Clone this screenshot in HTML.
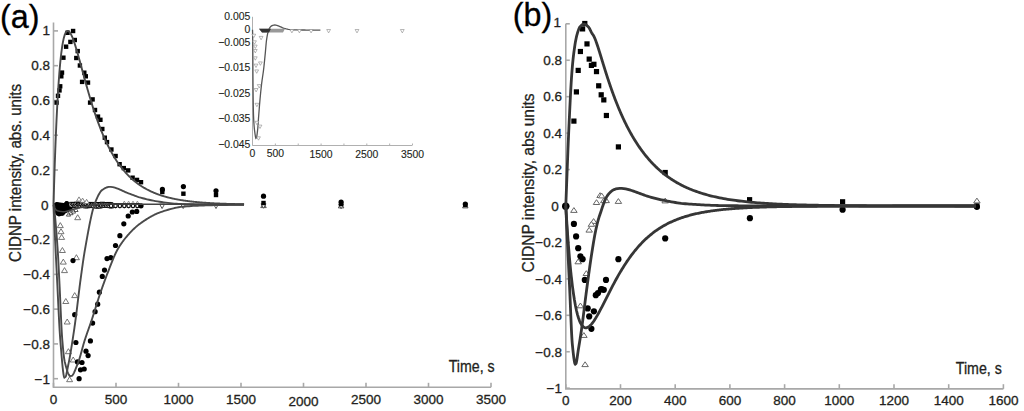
<!DOCTYPE html>
<html><head><meta charset="utf-8"><style>
html,body{margin:0;padding:0;background:#fff;width:1024px;height:411px;overflow:hidden}
svg{display:block;font-family:"Liberation Sans",sans-serif}
</style></head><body><svg width="1024" height="411" viewBox="0 0 1024 411" font-family="Liberation Sans, sans-serif"><rect width="1024" height="411" fill="#fff"/><path d="M53.5 22.5V387.3H491" stroke="#a8a8a8" stroke-width="1.6" fill="none"/><path d="M53.5 30.9H58" stroke="#a8a8a8" stroke-width="1.6" fill="none"/><text x="50" y="34.5" font-size="13.5" text-anchor="end" fill="#231f20" stroke="#231f20" stroke-width="0.3">1</text><path d="M53.5 65.68H58" stroke="#a8a8a8" stroke-width="1.6" fill="none"/><text x="50" y="70.48" font-size="13.5" text-anchor="end" fill="#231f20" stroke="#231f20" stroke-width="0.3">0.8</text><path d="M53.5 100.46H58" stroke="#a8a8a8" stroke-width="1.6" fill="none"/><text x="50" y="105.26" font-size="13.5" text-anchor="end" fill="#231f20" stroke="#231f20" stroke-width="0.3">0.6</text><path d="M53.5 135.24H58" stroke="#a8a8a8" stroke-width="1.6" fill="none"/><text x="50" y="140.04" font-size="13.5" text-anchor="end" fill="#231f20" stroke="#231f20" stroke-width="0.3">0.4</text><path d="M53.5 170.02H58" stroke="#a8a8a8" stroke-width="1.6" fill="none"/><text x="50" y="174.82" font-size="13.5" text-anchor="end" fill="#231f20" stroke="#231f20" stroke-width="0.3">0.2</text><path d="M53.5 204.8H58" stroke="#a8a8a8" stroke-width="1.6" fill="none"/><text x="48.6" y="209.6" font-size="13.5" text-anchor="end" fill="#231f20" stroke="#231f20" stroke-width="0.3">0</text><path d="M53.5 239.58H58" stroke="#a8a8a8" stroke-width="1.6" fill="none"/><text x="50" y="244.38" font-size="13.5" text-anchor="end" fill="#231f20" stroke="#231f20" stroke-width="0.3">−0.2</text><path d="M53.5 274.36H58" stroke="#a8a8a8" stroke-width="1.6" fill="none"/><text x="50" y="279.16" font-size="13.5" text-anchor="end" fill="#231f20" stroke="#231f20" stroke-width="0.3">−0.4</text><path d="M53.5 309.14H58" stroke="#a8a8a8" stroke-width="1.6" fill="none"/><text x="50" y="313.94" font-size="13.5" text-anchor="end" fill="#231f20" stroke="#231f20" stroke-width="0.3">−0.6</text><path d="M53.5 343.92H58" stroke="#a8a8a8" stroke-width="1.6" fill="none"/><text x="50" y="348.72" font-size="13.5" text-anchor="end" fill="#231f20" stroke="#231f20" stroke-width="0.3">−0.8</text><path d="M53.5 378.7H58" stroke="#a8a8a8" stroke-width="1.6" fill="none"/><text x="50" y="383.5" font-size="13.5" text-anchor="end" fill="#231f20" stroke="#231f20" stroke-width="0.3">−1</text><path d="M53.5 387.3V382.8" stroke="#a8a8a8" stroke-width="1.6" fill="none"/><text x="53.5" y="403.8" font-size="13.5" text-anchor="middle" fill="#231f20" stroke="#231f20" stroke-width="0.3">0</text><path d="M116 387.3V382.8" stroke="#a8a8a8" stroke-width="1.6" fill="none"/><text x="116" y="403.8" font-size="13.5" text-anchor="middle" fill="#231f20" stroke="#231f20" stroke-width="0.3">500</text><path d="M178.5 387.3V382.8" stroke="#a8a8a8" stroke-width="1.6" fill="none"/><text x="178.5" y="403.8" font-size="13.5" text-anchor="middle" fill="#231f20" stroke="#231f20" stroke-width="0.3">1000</text><path d="M241 387.3V382.8" stroke="#a8a8a8" stroke-width="1.6" fill="none"/><text x="241" y="403.8" font-size="13.5" text-anchor="middle" fill="#231f20" stroke="#231f20" stroke-width="0.3">1500</text><path d="M303.5 387.3V382.8" stroke="#a8a8a8" stroke-width="1.6" fill="none"/><text x="303.5" y="406" font-size="13.5" text-anchor="middle" fill="#231f20" stroke="#231f20" stroke-width="0.3">2000</text><path d="M366 387.3V382.8" stroke="#a8a8a8" stroke-width="1.6" fill="none"/><text x="366" y="403.8" font-size="13.5" text-anchor="middle" fill="#231f20" stroke="#231f20" stroke-width="0.3">2500</text><path d="M428.5 387.3V382.8" stroke="#a8a8a8" stroke-width="1.6" fill="none"/><text x="428.5" y="403.8" font-size="13.5" text-anchor="middle" fill="#231f20" stroke="#231f20" stroke-width="0.3">3000</text><path d="M491 387.3V382.8" stroke="#a8a8a8" stroke-width="1.6" fill="none"/><text x="491" y="403.8" font-size="13.5" text-anchor="middle" fill="#231f20" stroke="#231f20" stroke-width="0.3">3500</text><text x="448.7" y="371.5" font-size="16" text-anchor="start" fill="#231f20" stroke="#231f20" stroke-width="0.3" textLength="46" lengthAdjust="spacingAndGlyphs">Time, s</text><text transform="translate(21.3 262) rotate(-90)" font-size="16" fill="#231f20" stroke="#231f20" stroke-width="0.3" textLength="178" lengthAdjust="spacingAndGlyphs">CIDNP intensity, abs. units</text><text x="0" y="28.2" font-size="32.3" text-anchor="start" fill="#000" stroke="#000" stroke-width="0.3">(a)</text><polygon points="74.7,219.7 80.7,219.7 77.7,214.7" fill="#fff" stroke="#666" stroke-width="0.9" stroke-linejoin="miter"/><polygon points="57.3,227.6 63.3,227.6 60.3,222.6" fill="#fff" stroke="#666" stroke-width="0.9" stroke-linejoin="miter"/><polygon points="58,233.7 64,233.7 61,228.7" fill="#fff" stroke="#666" stroke-width="0.9" stroke-linejoin="miter"/><polygon points="58.6,239.4 64.6,239.4 61.6,234.4" fill="#fff" stroke="#666" stroke-width="0.9" stroke-linejoin="miter"/><polygon points="59.4,252.5 65.4,252.5 62.4,247.5" fill="#fff" stroke="#666" stroke-width="0.9" stroke-linejoin="miter"/><polygon points="73.4,259.7 79.4,259.7 76.4,254.7" fill="#fff" stroke="#666" stroke-width="0.9" stroke-linejoin="miter"/><polygon points="60.3,264.1 66.3,264.1 63.3,259.1" fill="#fff" stroke="#666" stroke-width="0.9" stroke-linejoin="miter"/><polygon points="61.5,272.6 67.5,272.6 64.5,267.6" fill="#fff" stroke="#666" stroke-width="0.9" stroke-linejoin="miter"/><polygon points="71.7,297.6 77.7,297.6 74.7,292.6" fill="#fff" stroke="#666" stroke-width="0.9" stroke-linejoin="miter"/><polygon points="62.8,303.5 68.8,303.5 65.8,298.5" fill="#fff" stroke="#666" stroke-width="0.9" stroke-linejoin="miter"/><polygon points="64.2,324 70.2,324 67.2,319" fill="#fff" stroke="#666" stroke-width="0.9" stroke-linejoin="miter"/><polygon points="65.4,353.7 71.4,353.7 68.4,348.7" fill="#fff" stroke="#666" stroke-width="0.9" stroke-linejoin="miter"/><polygon points="70.2,362 76.2,362 73.2,357" fill="#fff" stroke="#666" stroke-width="0.9" stroke-linejoin="miter"/><polygon points="66.6,381.7 72.6,381.7 69.6,376.7" fill="#fff" stroke="#666" stroke-width="0.9" stroke-linejoin="miter"/><polygon points="69.5,202.34 74.5,202.34 72,207.14" fill="#fff" stroke="#000" stroke-width="1.0"/><polygon points="70.4,207.55 75.2,207.55 72.8,202.95" fill="#fff" stroke="#111" stroke-width="1.0" stroke-linejoin="miter"/><polygon points="71.1,202.47 76.1,202.47 73.6,207.27" fill="#fff" stroke="#000" stroke-width="1.0"/><polygon points="72,207.62 76.8,207.62 74.4,203.02" fill="#fff" stroke="#111" stroke-width="1.0" stroke-linejoin="miter"/><polygon points="72.7,202.73 77.7,202.73 75.2,207.53" fill="#fff" stroke="#000" stroke-width="1.0"/><polygon points="73.6,206.98 78.4,206.98 76,202.38" fill="#fff" stroke="#111" stroke-width="1.0" stroke-linejoin="miter"/><polygon points="74.3,202.11 79.3,202.11 76.8,206.91" fill="#fff" stroke="#000" stroke-width="1.0"/><polygon points="75.2,207.9 80,207.9 77.6,203.3" fill="#fff" stroke="#111" stroke-width="1.0" stroke-linejoin="miter"/><polygon points="75.9,202.36 80.9,202.36 78.4,207.16" fill="#fff" stroke="#000" stroke-width="1.0"/><polygon points="76.8,207.18 81.6,207.18 79.2,202.58" fill="#fff" stroke="#111" stroke-width="1.0" stroke-linejoin="miter"/><polygon points="77.5,203.1 82.5,203.1 80,207.9" fill="#fff" stroke="#000" stroke-width="1.0"/><polygon points="78.4,207.46 83.2,207.46 80.8,202.86" fill="#fff" stroke="#111" stroke-width="1.0" stroke-linejoin="miter"/><polygon points="79.1,202.94 84.1,202.94 81.6,207.74" fill="#fff" stroke="#000" stroke-width="1.0"/><polygon points="80,207.47 84.8,207.47 82.4,202.87" fill="#fff" stroke="#111" stroke-width="1.0" stroke-linejoin="miter"/><polygon points="80.7,202.74 85.7,202.74 83.2,207.54" fill="#fff" stroke="#000" stroke-width="1.0"/><polygon points="81.6,207.08 86.4,207.08 84,202.48" fill="#fff" stroke="#111" stroke-width="1.0" stroke-linejoin="miter"/><polygon points="82.3,202.73 87.3,202.73 84.8,207.53" fill="#fff" stroke="#000" stroke-width="1.0"/><polygon points="83.2,207.94 88,207.94 85.6,203.34" fill="#fff" stroke="#111" stroke-width="1.0" stroke-linejoin="miter"/><polygon points="83.9,202.62 88.9,202.62 86.4,207.42" fill="#fff" stroke="#000" stroke-width="1.0"/><polygon points="84.8,207.79 89.6,207.79 87.2,203.19" fill="#fff" stroke="#111" stroke-width="1.0" stroke-linejoin="miter"/><polygon points="85.5,202.77 90.5,202.77 88,207.57" fill="#fff" stroke="#000" stroke-width="1.0"/><polygon points="86.4,206.98 91.2,206.98 88.8,202.38" fill="#fff" stroke="#111" stroke-width="1.0" stroke-linejoin="miter"/><polygon points="87.1,202.86 92.1,202.86 89.6,207.66" fill="#fff" stroke="#000" stroke-width="1.0"/><polygon points="88,207.61 92.8,207.61 90.4,203.01" fill="#fff" stroke="#111" stroke-width="1.0" stroke-linejoin="miter"/><polygon points="88.7,202.4 93.7,202.4 91.2,207.2" fill="#fff" stroke="#000" stroke-width="1.0"/><polygon points="89.6,206.94 94.4,206.94 92,202.34" fill="#fff" stroke="#111" stroke-width="1.0" stroke-linejoin="miter"/><polygon points="90.3,202.97 95.3,202.97 92.8,207.77" fill="#fff" stroke="#000" stroke-width="1.0"/><polygon points="91.2,207.47 96,207.47 93.6,202.87" fill="#fff" stroke="#111" stroke-width="1.0" stroke-linejoin="miter"/><polygon points="91.9,202.82 96.9,202.82 94.4,207.62" fill="#fff" stroke="#000" stroke-width="1.0"/><polygon points="92.8,207.95 97.6,207.95 95.2,203.35" fill="#fff" stroke="#111" stroke-width="1.0" stroke-linejoin="miter"/><polygon points="93.5,202.81 98.5,202.81 96,207.61" fill="#fff" stroke="#000" stroke-width="1.0"/><polygon points="94.4,208.01 99.2,208.01 96.8,203.41" fill="#fff" stroke="#111" stroke-width="1.0" stroke-linejoin="miter"/><polygon points="95.1,202.49 100.1,202.49 97.6,207.29" fill="#fff" stroke="#000" stroke-width="1.0"/><polygon points="96,207.86 100.8,207.86 98.4,203.26" fill="#fff" stroke="#111" stroke-width="1.0" stroke-linejoin="miter"/><polygon points="96.7,202.54 101.7,202.54 99.2,207.34" fill="#fff" stroke="#000" stroke-width="1.0"/><polygon points="97.6,208.02 102.4,208.02 100,203.42" fill="#fff" stroke="#111" stroke-width="1.0" stroke-linejoin="miter"/><polygon points="98.3,202.98 103.3,202.98 100.8,207.78" fill="#fff" stroke="#000" stroke-width="1.0"/><polygon points="99.2,207.02 104,207.02 101.6,202.42" fill="#fff" stroke="#111" stroke-width="1.0" stroke-linejoin="miter"/><polygon points="99.9,202.24 104.9,202.24 102.4,207.04" fill="#fff" stroke="#000" stroke-width="1.0"/><polygon points="100.8,207.16 105.6,207.16 103.2,202.56" fill="#fff" stroke="#111" stroke-width="1.0" stroke-linejoin="miter"/><polygon points="101.5,203.07 106.5,203.07 104,207.87" fill="#fff" stroke="#000" stroke-width="1.0"/><polygon points="102.4,207.42 107.2,207.42 104.8,202.82" fill="#fff" stroke="#111" stroke-width="1.0" stroke-linejoin="miter"/><polygon points="103.1,202.73 108.1,202.73 105.6,207.53" fill="#fff" stroke="#000" stroke-width="1.0"/><polygon points="104,207.26 108.8,207.26 106.4,202.66" fill="#fff" stroke="#111" stroke-width="1.0" stroke-linejoin="miter"/><polygon points="104.7,202.61 109.7,202.61 107.2,207.41" fill="#fff" stroke="#000" stroke-width="1.0"/><polygon points="105.6,207.36 110.4,207.36 108,202.76" fill="#fff" stroke="#111" stroke-width="1.0" stroke-linejoin="miter"/><polygon points="106.3,202.45 111.3,202.45 108.8,207.25" fill="#fff" stroke="#000" stroke-width="1.0"/><polygon points="107.2,207.6 112,207.6 109.6,203" fill="#fff" stroke="#111" stroke-width="1.0" stroke-linejoin="miter"/><polygon points="107.9,202.68 112.9,202.68 110.4,207.48" fill="#fff" stroke="#000" stroke-width="1.0"/><polygon points="108.8,207.99 113.6,207.99 111.2,203.39" fill="#fff" stroke="#111" stroke-width="1.0" stroke-linejoin="miter"/><polygon points="76.5,201.1 81.5,201.1 79,196.9" fill="#fff" stroke="#777" stroke-width="0.9" stroke-linejoin="miter"/><polygon points="80.1,202.3 85.1,202.3 82.6,198.1" fill="#fff" stroke="#777" stroke-width="0.9" stroke-linejoin="miter"/><polygon points="84.1,203.5 89.1,203.5 86.6,199.3" fill="#fff" stroke="#777" stroke-width="0.9" stroke-linejoin="miter"/><polygon points="66.4,216.1 70.6,216.1 68.5,212.5" fill="#fff" stroke="#333" stroke-width="0.8" stroke-linejoin="miter"/><polygon points="68.9,214.7 73.1,214.7 71,211.1" fill="#fff" stroke="#333" stroke-width="0.8" stroke-linejoin="miter"/><polygon points="71.4,213.1 75.6,213.1 73.5,209.5" fill="#fff" stroke="#333" stroke-width="0.8" stroke-linejoin="miter"/><polygon points="73.9,211.5 78.1,211.5 76,207.9" fill="#fff" stroke="#333" stroke-width="0.8" stroke-linejoin="miter"/><polygon points="122,205.3 126.6,205.3 124.3,201.1" fill="#fff" stroke="#888" stroke-width="0.9" stroke-linejoin="miter"/><polygon points="126.3,205.3 130.9,205.3 128.6,201.1" fill="#fff" stroke="#888" stroke-width="0.9" stroke-linejoin="miter"/><polygon points="130.7,205.3 135.3,205.3 133,201.1" fill="#fff" stroke="#888" stroke-width="0.9" stroke-linejoin="miter"/><polygon points="135.1,205.3 139.7,205.3 137.4,201.1" fill="#fff" stroke="#888" stroke-width="0.9" stroke-linejoin="miter"/><polygon points="108.8,203.5 113.4,203.5 111.1,208.1" fill="#fff" stroke="#111" stroke-width="1.0"/><circle cx="111.1" cy="205.9" r="1.7" fill="#fff" stroke="#111" stroke-width="1.2"/><polygon points="113.2,203.5 117.8,203.5 115.5,208.1" fill="#fff" stroke="#111" stroke-width="1.0"/><circle cx="115.5" cy="205.9" r="1.7" fill="#fff" stroke="#111" stroke-width="1.2"/><polygon points="117.6,203.5 122.2,203.5 119.9,208.1" fill="#fff" stroke="#111" stroke-width="1.0"/><circle cx="119.9" cy="205.9" r="1.7" fill="#fff" stroke="#111" stroke-width="1.2"/><polygon points="122,203.5 126.6,203.5 124.3,208.1" fill="#fff" stroke="#111" stroke-width="1.0"/><circle cx="124.3" cy="205.9" r="1.7" fill="#fff" stroke="#111" stroke-width="1.2"/><polygon points="126.3,203.5 130.9,203.5 128.6,208.1" fill="#fff" stroke="#111" stroke-width="1.0"/><circle cx="128.6" cy="205.9" r="1.7" fill="#fff" stroke="#111" stroke-width="1.2"/><polygon points="130.7,203.5 135.3,203.5 133,208.1" fill="#fff" stroke="#111" stroke-width="1.0"/><circle cx="133" cy="205.9" r="1.7" fill="#fff" stroke="#111" stroke-width="1.2"/><polygon points="135.1,203.5 139.7,203.5 137.4,208.1" fill="#fff" stroke="#111" stroke-width="1.0"/><circle cx="137.4" cy="205.9" r="1.7" fill="#fff" stroke="#111" stroke-width="1.2"/><polygon points="260.75,207.6 266.25,207.6 263.5,202.8" fill="#fff" stroke="#444" stroke-width="0.9" stroke-linejoin="miter"/><polygon points="338.35,207.9 343.85,207.9 341.1,203.1" fill="#fff" stroke="#444" stroke-width="0.9" stroke-linejoin="miter"/><polygon points="462.55,207.9 468.05,207.9 465.3,203.1" fill="#fff" stroke="#444" stroke-width="0.9" stroke-linejoin="miter"/><polygon points="159.6,204.05 164.6,204.05 162.1,208.55" fill="#fff" stroke="#444" stroke-width="0.9"/><polygon points="180.7,204.05 185.7,204.05 183.2,208.55" fill="#fff" stroke="#444" stroke-width="0.9"/><polygon points="213.5,204.05 218.5,204.05 216,208.55" fill="#fff" stroke="#444" stroke-width="0.9"/><polygon points="261,203.75 266,203.75 263.5,208.25" fill="#fff" stroke="#444" stroke-width="0.9"/><polygon points="338.6,204.25 343.6,204.25 341.1,208.75" fill="#fff" stroke="#444" stroke-width="0.9"/><rect x="65.3" y="30.6" width="4.4" height="4.4" fill="#000"/><rect x="70.9" y="28.8" width="4.4" height="4.4" fill="#000"/><rect x="68.2" y="39.7" width="4.4" height="4.4" fill="#000"/><rect x="72.6" y="37.8" width="4.4" height="4.4" fill="#000"/><rect x="63.9" y="44.5" width="4.4" height="4.4" fill="#000"/><rect x="75.5" y="48.9" width="4.4" height="4.4" fill="#000"/><rect x="61.2" y="55.5" width="4.4" height="4.4" fill="#000"/><rect x="74.1" y="55.8" width="4.4" height="4.4" fill="#000"/><rect x="77.7" y="63.3" width="4.4" height="4.4" fill="#000"/><rect x="59.8" y="70.4" width="4.4" height="4.4" fill="#000"/><rect x="59.1" y="74.1" width="4.4" height="4.4" fill="#000"/><rect x="82.1" y="70.5" width="4.4" height="4.4" fill="#000"/><rect x="83.6" y="74.1" width="4.4" height="4.4" fill="#000"/><rect x="79.9" y="79.7" width="4.4" height="4.4" fill="#000"/><rect x="85.8" y="80.4" width="4.4" height="4.4" fill="#000"/><rect x="58" y="84.1" width="4.4" height="4.4" fill="#000"/><rect x="57.3" y="88.2" width="4.4" height="4.4" fill="#000"/><rect x="55.8" y="93.6" width="4.4" height="4.4" fill="#000"/><rect x="54.4" y="100.4" width="4.4" height="4.4" fill="#000"/><rect x="90.4" y="97.2" width="4.4" height="4.4" fill="#000"/><rect x="87.9" y="100.4" width="4.4" height="4.4" fill="#000"/><rect x="92.8" y="107.8" width="4.4" height="4.4" fill="#000"/><rect x="95.8" y="114.4" width="4.4" height="4.4" fill="#000"/><rect x="98.2" y="117.6" width="4.4" height="4.4" fill="#000"/><rect x="100.1" y="126.8" width="4.4" height="4.4" fill="#000"/><rect x="102.6" y="135.5" width="4.4" height="4.4" fill="#000"/><rect x="104.8" y="139.9" width="4.4" height="4.4" fill="#000"/><rect x="109.2" y="147.3" width="4.4" height="4.4" fill="#000"/><rect x="113.4" y="153.8" width="4.4" height="4.4" fill="#000"/><rect x="117.4" y="162" width="4.4" height="4.4" fill="#000"/><rect x="121.6" y="165.9" width="4.4" height="4.4" fill="#000"/><rect x="126" y="168.2" width="4.4" height="4.4" fill="#000"/><rect x="130.4" y="175.5" width="4.4" height="4.4" fill="#000"/><rect x="134.8" y="177.7" width="4.4" height="4.4" fill="#000"/><rect x="138.8" y="180" width="4.4" height="4.4" fill="#000"/><rect x="160.1" y="189.8" width="4.4" height="4.4" fill="#000"/><rect x="181.2" y="191.5" width="4.4" height="4.4" fill="#000"/><rect x="213.8" y="192.8" width="4.4" height="4.4" fill="#000"/><rect x="261.3" y="200.8" width="4.4" height="4.4" fill="#000"/><rect x="338.9" y="201.8" width="4.4" height="4.4" fill="#000"/><rect x="463.1" y="202.8" width="4.4" height="4.4" fill="#000"/><circle cx="141" cy="205.8" r="2.6" fill="#000"/><circle cx="132.3" cy="212" r="2.6" fill="#000"/><circle cx="136.7" cy="211.4" r="2.6" fill="#000"/><circle cx="128.2" cy="216" r="2.6" fill="#000"/><circle cx="123.8" cy="223.8" r="2.6" fill="#000"/><circle cx="119.9" cy="235.7" r="2.6" fill="#000"/><circle cx="115.5" cy="245.5" r="2.6" fill="#000"/><circle cx="110.8" cy="257.7" r="2.6" fill="#000"/><circle cx="107" cy="258.6" r="2.6" fill="#000"/><circle cx="104.5" cy="270.1" r="2.6" fill="#000"/><circle cx="102.3" cy="276.4" r="2.6" fill="#000"/><circle cx="99.4" cy="292.2" r="2.6" fill="#000"/><circle cx="97.7" cy="304.2" r="2.6" fill="#000"/><circle cx="95.1" cy="311.7" r="2.6" fill="#000"/><circle cx="92.6" cy="323.1" r="2.6" fill="#000"/><circle cx="73" cy="260.6" r="2.6" fill="#000"/><circle cx="74.7" cy="314.7" r="2.6" fill="#000"/><circle cx="75.9" cy="342.5" r="2.6" fill="#000"/><circle cx="90.4" cy="340.9" r="2.6" fill="#000"/><circle cx="86" cy="351.2" r="2.6" fill="#000"/><circle cx="88.1" cy="355.6" r="2.6" fill="#000"/><circle cx="77.5" cy="361.9" r="2.6" fill="#000"/><circle cx="82" cy="362.5" r="2.6" fill="#000"/><circle cx="80.5" cy="369.8" r="2.6" fill="#000"/><circle cx="84.2" cy="369" r="2.6" fill="#000"/><circle cx="79.1" cy="378.7" r="2.6" fill="#000"/><circle cx="162.4" cy="189.4" r="2.6" fill="#000"/><circle cx="183.4" cy="186.6" r="2.6" fill="#000"/><circle cx="216" cy="190.8" r="2.6" fill="#000"/><circle cx="263.5" cy="196.2" r="2.6" fill="#000"/><circle cx="341.1" cy="202" r="2.6" fill="#000"/><circle cx="465.3" cy="204" r="2.6" fill="#000"/><path d="M53.8 203.6L56.3 202L60.1 202.6L63.9 203L65.5 201.6L67.5 201.4L69.2 203L69.8 206.4L72.2 207.8L72.7 209.6L70.9 210.8L65.8 213.3L62.7 215.6L58.9 216.4L56.3 215.2L54.2 212Z" fill="#000"/><circle cx="66.8" cy="203.2" r="2.3" fill="#000"/><circle cx="57" cy="204.5" r="2.3" fill="#000"/><circle cx="59" cy="213.5" r="2.3" fill="#000"/><circle cx="62.5" cy="213.5" r="2.3" fill="#000"/><path d="M53.5 204.8L53.53 203.69L53.56 202.59L53.59 201.5L53.62 200.41L53.66 199.33L53.69 198.25L53.72 197.17L53.75 196.11L53.78 195.04L53.81 193.99L53.84 192.93L53.88 191.89L53.91 190.85L53.94 189.81L53.97 188.78L54 187.75L54.03 186.73L54.06 185.72L54.09 184.71L54.12 183.7L54.16 182.7L54.19 181.7L54.22 180.71L54.25 179.73L54.28 178.75L54.31 177.77L54.34 176.8L54.38 175.84L54.41 174.88L54.44 173.92L54.47 172.97L54.5 172.03L54.53 171.09L54.56 170.15L54.59 169.22L54.62 168.29L54.66 167.37L54.69 166.45L54.72 165.54L54.75 164.63L54.78 163.73L54.81 162.83L54.84 161.94L54.88 161.05L54.91 160.16L54.94 159.28L54.97 158.41L55 157.54L55.03 156.67L55.06 155.81L55.09 154.95L55.12 154.1L55.16 153.25L55.19 152.41L55.22 151.57L55.25 150.73L55.28 149.9L55.31 149.08L55.34 148.25L55.38 147.44L55.41 146.62L55.44 145.81L55.47 145.01L55.5 144.21L55.53 143.41L55.56 142.62L55.59 141.83L55.62 141.05L55.66 140.27L55.69 139.49L55.72 138.72L55.75 137.95L55.78 137.19L55.81 136.43L55.84 135.68L55.88 134.92L55.91 134.18L55.94 133.43L55.97 132.7L56 131.96L56.06 130.5L56.53 120L57.01 110.34L57.48 101.46L57.95 93.32L58.42 85.87L58.89 79.07L59.36 72.88L59.83 67.25L60.3 62.17L60.78 57.58L61.25 53.46L61.72 49.77L62.19 46.5L62.66 43.61L63.13 41.08L63.6 38.88L64.08 37L64.55 35.4L65.02 34.08L65.49 33.01L65.96 32.18L66.43 31.57L66.9 31.16L67.37 30.95L67.85 30.91L68.32 31.03L68.79 31.3L69.26 31.72L69.73 32.27L70.2 32.93L70.67 33.71L71.15 34.59L71.62 35.56L72.09 36.62L72.56 37.76L73.03 38.97L73.5 40.25L73.97 41.58L74.44 42.98L74.92 44.42L75.39 45.9L75.86 47.43L76.33 48.99L76.8 50.58L77.27 52.2L77.74 53.84L78.22 55.5L78.69 57.18L79.16 58.88L79.63 60.59L80.1 62.31L80.57 64.04L81.04 65.77L81.51 67.5L81.99 69.24L82.46 70.98L82.93 72.71L83.4 74.45L83.87 76.17L84.34 77.9L84.81 79.61L85.29 81.32L85.76 83.01L86.23 84.7L86.7 86.38L87.17 88.04L87.64 89.7L88.11 91.34L88.58 92.96L89.06 94.57L89.53 96.17L90 97.76L90.47 99.32L90.94 100.87L91.41 102.41L91.88 103.93L92.36 105.43L92.83 106.92L93.3 108.39L93.77 109.84L94.24 111.27L94.71 112.69L95.18 114.09L95.65 115.48L96.13 116.84L96.6 118.19L97.07 119.52L97.54 120.84L98.01 122.13L98.48 123.41L98.95 124.68L99.43 125.92L99.9 127.15L100.37 128.36L100.84 129.56L101.31 130.73L101.78 131.89L102.25 133.04L102.72 134.17L103.2 135.28L103.67 136.38L104.14 137.46L104.61 138.52L105.08 139.57L105.55 140.6L106.02 141.62L106.5 142.62L106.97 143.61L107.44 144.58L107.91 145.54L108.38 146.49L108.85 147.42L109.32 148.33L109.79 149.23L110.27 150.12L110.74 151L111.21 151.86L111.68 152.7L112.15 153.54L112.62 154.36L113.09 155.17L113.57 155.97L114.04 156.75L114.51 157.52L114.98 158.28L115.45 159.03L115.92 159.77L116.39 160.49L116.86 161.2L117.34 161.91L117.81 162.6L118.28 163.28L118.75 163.95L119.22 164.61L119.69 165.25L120.16 165.89L120.64 166.52L121.11 167.14L121.58 167.75L122.05 168.35L122.52 168.93L122.99 169.51L123.46 170.08L123.93 170.65L124.41 171.2L124.88 171.74L125.35 172.28L125.82 172.8L126.29 173.32L126.76 173.83L127.23 174.33L127.71 174.82L128.18 175.31L128.65 175.79L129.12 176.26L129.59 176.72L130.06 177.17L130.53 177.62L131 178.06L131.48 178.49L131.95 178.92L132.42 179.34L132.89 179.75L133.36 180.16L133.83 180.56L134.3 180.95L134.78 181.34L135.25 181.72L135.72 182.09L136.19 182.46L136.66 182.82L137.13 183.18L137.6 183.53L138.07 183.88L138.55 184.22L139.02 184.55L139.49 184.88L139.96 185.2L140.43 185.52L140.9 185.83L141.37 186.14L141.85 186.44L142.32 186.74L142.79 187.03L143.26 187.32L143.73 187.61L144.2 187.88L144.67 188.16L145.14 188.43L145.62 188.7L146.09 188.96L146.56 189.21L147.03 189.47L147.5 189.72L147.97 189.96L148.44 190.2L148.92 190.44L149.39 190.67L149.86 190.9L150.33 191.13L150.8 191.35L151.27 191.57L151.74 191.78L152.21 191.99L152.69 192.2L153.16 192.41L153.63 192.61L154.1 192.81L154.57 193L155.04 193.19L155.51 193.38L155.99 193.57L156.46 193.75L156.93 193.93L157.4 194.1L157.87 194.28L158.34 194.45L158.81 194.62L159.28 194.78L159.76 194.94L160.23 195.1L160.7 195.26L161.17 195.42L161.64 195.57L162.11 195.72L162.58 195.87L163.06 196.01L163.53 196.15L164 196.3L164.47 196.43L164.94 196.57L165.41 196.7L165.88 196.83L166.35 196.96L166.83 197.09L167.3 197.22L167.77 197.34L168.24 197.46L168.71 197.58L169.18 197.7L169.65 197.81L170.13 197.93L170.6 198.04L171.07 198.15L171.54 198.26L172.01 198.36L172.48 198.47L172.95 198.57L173.42 198.67L173.9 198.77L174.37 198.87L174.84 198.96L175.31 199.06L175.78 199.15L176.25 199.24L176.72 199.33L177.2 199.42L177.67 199.51L178.14 199.6L178.61 199.68L179.08 199.76L179.55 199.85L180.02 199.93L180.49 200.01L180.97 200.08L181.44 200.16L181.91 200.24L182.38 200.31L182.85 200.38L183.32 200.45L183.79 200.52L184.27 200.59L184.74 200.66L185.21 200.73L185.68 200.8L186.15 200.86L186.62 200.92L187.09 200.99L187.56 201.05L188.04 201.11L188.51 201.17L188.98 201.23L189.45 201.29L189.92 201.34L190.39 201.4L190.86 201.46L191.34 201.51L191.81 201.56L192.28 201.62L192.75 201.67L193.22 201.72L193.69 201.77L194.16 201.82L194.63 201.87L195.11 201.91L195.58 201.96L196.05 202.01L196.52 202.05L196.99 202.1L197.46 202.14L197.93 202.18L198.41 202.23L198.88 202.27L199.35 202.31L199.82 202.35L200.29 202.39L200.76 202.43L201.23 202.47L201.7 202.51L202.18 202.54L202.65 202.58L203.12 202.62L203.59 202.65L204.06 202.69L204.53 202.72L205 202.75L205.48 202.79L205.95 202.82L206.42 202.85L206.89 202.88L207.36 202.91L207.83 202.95L208.3 202.98L208.77 203.01L209.25 203.03L209.72 203.06L210.19 203.09L210.66 203.12L211.13 203.15L211.6 203.17L212.07 203.2L212.55 203.23L213.02 203.25L213.49 203.28L213.96 203.3L214.43 203.33L214.9 203.35L215.37 203.37L215.84 203.4L216.32 203.42L216.79 203.44L217.26 203.46L217.73 203.49L218.2 203.51L218.67 203.53L219.14 203.55L219.62 203.57L220.09 203.59L220.56 203.61L221.03 203.63L221.5 203.65L221.97 203.67L222.44 203.68L222.91 203.7L223.39 203.72L223.86 203.74L224.33 203.75L224.8 203.77L225.27 203.79L225.74 203.8L226.21 203.82L226.69 203.84L227.16 203.85L227.63 203.87L228.1 203.88L228.57 203.9L229.04 203.91L229.51 203.93L229.98 203.94L230.46 203.95L230.93 203.97L231.4 203.98L231.87 204L232.34 204.01L232.81 204.02L233.28 204.03L233.76 204.05L234.23 204.06L234.7 204.07L235.17 204.08L235.64 204.09L236.11 204.11L236.58 204.12L237.05 204.13L237.53 204.14L238 204.15L238.47 204.16L238.94 204.17L239.41 204.18L239.88 204.19L240.35 204.2L240.83 204.21L241.3 204.22L241.77 204.23L242.24 204.24L242.71 204.25L243.18 204.26L243.65 204.27L244.12 204.27" fill="none" stroke="#4a4a4a" stroke-width="1.9" stroke-linejoin="round"/><path d="M53.5 204.8L53.65 208.1L53.8 211.38L53.95 214.65L54.1 217.9L54.25 221.14L54.4 224.37L54.55 227.58L54.7 230.78L54.85 233.96L55 237.13L55.15 240.29L55.3 243.43L55.45 246.55L55.6 249.67L55.75 252.76L55.9 255.85L56.05 258.92L56.2 261.97L56.35 265.01L56.5 268.04L56.65 271.05L56.8 274.05L56.95 277.03L57.1 280L57.25 282.99L57.4 286.04L57.55 289.13L57.7 292.25L57.85 295.39L58 298.54L58.15 301.69L58.3 304.83L58.45 307.94L58.6 311.02L58.75 314.05L58.9 317.03L59.05 319.93L59.2 322.76L59.35 325.5L59.5 328.13L59.65 330.65L59.8 333.05L59.95 335.31L60.1 337.43L60.25 339.38L60.4 341.22L60.55 343.05L60.7 344.9L60.85 346.75L61 348.6L61.15 350.44L61.3 352.27L61.45 354.09L61.6 355.88L61.75 357.64L61.9 359.37L62.05 361.05L62.2 362.69L62.35 364.28L62.5 365.82L62.65 367.29L62.8 368.69L62.95 370.03L63.1 371.28L63.25 372.45L63.4 373.53L63.55 374.51L63.7 375.39L63.85 376.17L64 376.84L64.3 377.81L65.65 376.83L65.95 375.86L66.25 374.71L66.4 374.07L66.55 373.41L66.7 372.71L66.85 372L67 371.26L67.15 370.51L67.3 369.75L67.45 368.99L67.6 368.22L67.75 367.46L67.9 366.7L68.05 365.96L68.2 365.23L68.35 364.53L68.5 363.84L68.65 363.13L68.8 362.41L68.95 361.66L69.1 360.9L69.25 360.12L69.4 359.33L69.55 358.52L69.7 357.69L69.85 356.85L70 356L70.15 355.14L70.3 354.26L70.45 353.38L70.6 352.48L70.75 351.58L70.9 350.67L71.05 349.75L71.2 348.82L71.35 347.89L71.5 346.95L71.65 346.01L71.8 345.06L71.95 344.12L72.1 343.17L72.25 342.22L72.4 341.27L72.55 340.32L72.7 339.37L72.85 338.4L73 337.43L73.15 336.45L73.3 335.46L73.45 334.46L73.6 333.45L73.75 332.44L73.9 331.41L74.05 330.37L74.2 329.33L74.35 328.28L74.5 327.22L74.65 326.16L74.8 325.09L74.95 324.01L75.1 322.92L75.25 321.83L75.4 320.73L75.55 319.63L75.7 318.51L75.85 317.38L76 316.23L76.15 315.07L76.3 313.89L76.45 312.7L76.6 311.51L76.75 310.3L76.9 309.08L77.05 307.86L77.2 306.63L77.35 305.39L77.5 304.15L77.65 302.9L77.8 301.66L77.95 300.41L78.1 299.16L78.25 297.91L78.4 296.67L78.55 295.43L78.7 294.19L78.85 292.95L79 291.72L79.15 290.5L79.3 289.29L79.45 288.09L79.6 286.89L79.75 285.71L79.9 284.54L80.05 283.38L80.2 282.24L80.35 281.11L80.5 280L80.65 278.9L80.8 277.79L80.95 276.69L81.1 275.59L81.25 274.49L81.4 273.39L81.55 272.3L81.7 271.21L81.85 270.12L82 269.04L82.15 267.96L82.3 266.89L82.45 265.83L82.6 264.78L82.75 263.73L82.9 262.69L83.05 261.66L83.2 260.64L83.35 259.63L83.5 258.64L83.65 257.65L83.8 256.68L83.95 255.72L84.1 254.78L84.25 253.85L84.4 252.93L84.55 252.03L84.7 251.15L84.85 250.28L85 249.43L85.15 248.58L85.3 247.73L85.45 246.88L85.6 246.03L85.75 245.18L85.9 244.33L86.05 243.48L86.2 242.64L86.35 241.79L86.5 240.95L86.65 240.11L86.8 239.27L86.95 238.43L87.1 237.6L87.25 236.76L87.4 235.94L87.55 235.11L87.7 234.29L87.85 233.47L88 232.66L88.15 231.85L88.3 231.04L88.45 230.24L88.6 229.45L88.75 228.65L88.9 227.87L89.05 227.09L89.2 226.31L89.35 225.54L89.5 224.78L89.65 224.03L89.8 223.28L89.95 222.53L90.1 221.8L90.25 221.07L90.4 220.35L90.55 219.63L90.7 218.93L90.85 218.23L91 217.54L91.15 216.86L91.3 216.19L91.45 215.53L91.6 214.87L91.75 214.23L91.9 213.59L92.05 212.97L92.2 212.35L92.35 211.75L92.65 210.57L92.95 209.44L93.25 208.35L93.55 207.31L93.85 206.32L94.15 205.37L94.45 204.49L94.75 203.65L95.05 202.87L95.35 202.12L95.65 201.38L95.95 200.65L96.25 199.93L96.55 199.22L96.85 198.53L97.15 197.86L97.45 197.2L97.75 196.56L98.05 195.94L98.5 195.05L98.95 194.21L99.4 193.43L99.85 192.7L100.3 192.03L100.75 191.43L101.35 190.73L102.1 190.05L103 189.43L104.05 188.76L105.1 188.15L106.45 187.5L108.55 186.89L110.65 186.84L112.75 187.12L114.85 187.64L116.8 188.29L118.45 188.93L119.95 189.57L121.3 190.18L122.65 190.8L124 191.42L125.35 192.02L126.85 192.67L128.5 193.32L130.15 193.92L131.8 194.55L133.45 195.2L135.1 195.84L136.75 196.45L138.55 197.07L140.65 197.68L142.75 198.24L144.85 198.78L146.95 199.3L149.05 199.78L151.15 200.24L153.25 200.67L155.35 201.06L157.45 201.42L159.55 201.74L161.65 202.03L163.75 202.32L165.85 202.6L167.95 202.88L170.05 203.13L172.15 203.37L174.25 203.58L176.35 203.77L178.45 203.92L180.55 204.03L182.65 204.1L184.75 204.15L186.85 204.2L188.95 204.24L191.05 204.28L193.15 204.32L195.25 204.36L197.35 204.4L199.45 204.44L201.55 204.47L203.65 204.5L205.75 204.53L207.85 204.56L209.95 204.59L212.05 204.62L214.15 204.64L216.25 204.66L218.35 204.68L220.45 204.7L222.55 204.72L224.65 204.73L226.75 204.75L228.85 204.76L230.95 204.77L233.05 204.78L235.15 204.79L237.25 204.79L239.35 204.8L241.45 204.8L243.55 204.8L244 204.8" fill="none" stroke="#4a4a4a" stroke-width="1.9" stroke-linejoin="round"/><path d="M53.5 204.8L53.65 205.59L53.8 206.46L53.95 207.42L54.1 208.45L54.25 209.56L54.4 210.74L54.55 212L54.7 213.32L54.85 214.71L55 216.16L55.15 217.67L55.3 219.23L55.45 220.86L55.6 222.53L55.75 224.26L55.9 226.03L56.05 227.84L56.2 229.7L56.35 231.6L56.5 233.53L56.65 235.5L56.8 237.5L56.95 239.53L57.1 241.58L57.25 243.66L57.4 245.75L57.55 247.87L57.7 250L57.85 252.25L58 254.71L58.15 257.34L58.3 260.12L58.45 263.01L58.6 265.98L58.75 269L58.9 272.04L59.05 275.07L59.2 278.05L59.35 280.97L59.5 283.98L59.65 287.09L59.8 290.3L59.95 293.59L60.1 296.93L60.25 300.31L60.4 303.71L60.55 307.11L60.7 310.48L60.85 313.81L61 317.08L61.15 320.27L61.3 323.36L61.45 326.34L61.6 329.17L61.75 331.85L61.9 334.35L62.05 336.65L62.2 338.74L62.35 340.6L62.5 342.38L62.65 344.13L62.8 345.82L62.95 347.47L63.1 349.07L63.25 350.61L63.4 352.08L63.55 353.49L63.7 354.83L63.85 356.09L64 357.26L64.15 358.36L64.3 359.36L64.45 360.27L64.6 361.08L64.75 361.79L64.9 362.41L65.05 363.02L65.2 363.62L65.5 364.79L65.8 365.93L66.1 367.03L66.4 368.08L66.7 369.09L67 370.05L67.3 370.95L67.6 371.8L67.9 372.59L68.2 373.32L68.5 373.98L68.95 374.84L69.4 375.53L70 376.18L72.1 375.78L72.7 375.02L73.15 374.3L73.6 373.49L74.05 372.58L74.35 371.93L74.65 371.25L74.95 370.55L75.25 369.83L75.55 369.1L75.85 368.35L76.15 367.6L76.45 366.86L76.75 366.11L77.05 365.38L77.35 364.65L77.65 363.94L77.95 363.19L78.25 362.38L78.55 361.53L78.85 360.64L79.15 359.71L79.45 358.75L79.75 357.76L80.05 356.74L80.35 355.7L80.65 354.64L80.95 353.56L81.25 352.47L81.55 351.38L81.85 350.28L82.15 349.18L82.45 348.08L82.75 346.99L83.05 345.9L83.35 344.84L83.65 343.79L83.95 342.76L84.25 341.76L84.55 340.79L84.85 339.85L85.15 338.92L85.45 338.02L85.75 337.12L86.05 336.23L86.35 335.35L86.65 334.48L86.95 333.62L87.25 332.76L87.55 331.9L87.85 331.05L88.15 330.21L88.45 329.36L88.75 328.51L89.05 327.67L89.35 326.82L89.65 325.97L89.95 325.11L90.25 324.25L90.55 323.39L90.85 322.52L91.15 321.64L91.45 320.75L91.75 319.85L92.05 318.94L92.35 318.02L92.65 317.1L92.95 316.16L93.25 315.22L93.55 314.28L93.85 313.33L94.15 312.37L94.45 311.41L94.75 310.45L95.05 309.49L95.35 308.53L95.65 307.56L95.95 306.6L96.25 305.63L96.55 304.67L96.85 303.71L97.15 302.76L97.45 301.81L97.75 300.86L98.05 299.92L98.35 298.98L98.65 298.06L98.95 297.14L99.25 296.23L99.55 295.33L99.85 294.44L100.15 293.56L100.45 292.69L100.75 291.82L101.05 290.95L101.35 290.08L101.65 289.22L101.95 288.37L102.25 287.51L102.55 286.67L102.85 285.82L103.15 284.98L103.45 284.14L103.75 283.31L104.05 282.48L104.35 281.66L104.65 280.84L104.95 280.02L105.25 279.21L105.55 278.41L105.85 277.61L106.15 276.81L106.45 276.02L106.75 275.23L107.05 274.45L107.35 273.67L107.65 272.9L107.95 272.13L108.25 271.36L108.55 270.59L108.85 269.82L109.15 269.04L109.45 268.27L109.75 267.49L110.05 266.71L110.35 265.94L110.65 265.16L110.95 264.39L111.25 263.62L111.55 262.86L111.85 262.1L112.15 261.34L112.45 260.59L112.75 259.85L113.05 259.12L113.35 258.39L113.65 257.67L113.95 256.97L114.25 256.27L114.55 255.59L114.85 254.92L115.15 254.26L115.45 253.62L115.75 252.99L116.05 252.37L116.5 251.48L116.95 250.63L117.4 249.82L117.85 249.04L118.3 248.27L118.75 247.52L119.2 246.79L119.65 246.07L120.1 245.36L120.55 244.68L121 244L121.45 243.34L121.9 242.69L122.35 242.06L122.8 241.44L123.25 240.83L123.85 240.03L124.45 239.26L125.05 238.5L125.65 237.76L126.25 237.03L126.85 236.32L127.45 235.63L128.05 234.94L128.65 234.27L129.25 233.61L129.85 232.95L130.45 232.31L131.05 231.68L131.65 231.06L132.25 230.45L133 229.7L133.75 228.97L134.5 228.27L135.25 227.58L136 226.91L136.75 226.26L137.5 225.63L138.25 225.03L139.15 224.33L140.05 223.66L140.95 223.02L141.85 222.38L142.75 221.76L143.65 221.14L144.55 220.53L145.6 219.84L146.65 219.16L147.7 218.5L148.75 217.86L149.8 217.23L150.85 216.63L152.05 215.97L153.25 215.34L154.45 214.73L155.8 214.1L157.3 213.44L158.8 212.84L160.6 212.19L162.4 211.57L164.2 210.97L166.15 210.34L168.1 209.74L170.2 209.13L172.3 208.56L174.4 208.05L176.5 207.6L178.6 207.21L180.7 206.89L182.8 206.65L184.9 206.48L187 206.32L189.1 206.18L191.2 206.05L193.3 205.92L195.4 205.81L197.5 205.71L199.6 205.61L201.7 205.53L203.8 205.45L205.9 205.38L208 205.32L210.1 205.26L212.2 205.22L214.3 205.17L216.4 205.13L218.5 205.09L220.6 205.05L222.7 205.01L224.8 204.98L226.9 204.94L229 204.91L231.1 204.89L233.2 204.86L235.3 204.84L237.4 204.82L239.5 204.81L241.6 204.8L243.7 204.8L244 204.8" fill="none" stroke="#4a4a4a" stroke-width="1.9" stroke-linejoin="round"/><path d="M53.5 204.3L54 204.93L54.3 205.62L54.5 206.36L54.7 207.36L54.9 208.07L55.2 208.73L55.6 209.42L56.2 210.07L57.5 210.71L59.5 211.22L61.5 211.56L63.5 211.7L65.5 211.5L67.5 211.11L69.4 210.5L71.3 209.87L73.3 209.25L75.3 208.71L77.3 208.22L79.3 207.81L81.3 207.46L83.3 207.11L85.3 206.68L87.3 206.19L89.3 205.66L91.3 205.12L93.3 204.77L95.3 204.52L97.3 204.34L99.3 204.22L101.3 204.14L103.3 204.08L105.3 204.04L107.3 204.01L109.3 203.99L111.3 203.98L113.3 203.97L115.3 203.97L117.3 203.98L119.3 203.99L121.3 204.01L123.3 204.03L125.3 204.05L127.3 204.07L129.3 204.09L131.4 204.11L133.4 204.13L135.4 204.16L137.4 204.18L139.4 204.2L141.4 204.21L143.4 204.22L145.4 204.24L147.4 204.25L149.4 204.26L151.4 204.27L153.4 204.28L155.4 204.29L157.4 204.29L159.4 204.3L161.4 204.3L163.4 204.3L165.4 204.3L167.4 204.3L169.4 204.3L171.4 204.3L173.4 204.3L175.4 204.3L177.4 204.3L179.4 204.3L181.4 204.3L183.4 204.3L185.4 204.3L187.4 204.3L189.4 204.3L191.4 204.3L193.4 204.3L195.4 204.3L197.4 204.3L199.4 204.3L201.4 204.3L203.4 204.3L205.4 204.3L207.4 204.3L209.4 204.3L211.4 204.3L213.4 204.3L215.4 204.3L217.4 204.3L219.4 204.3L221.4 204.3L223.4 204.3L225.4 204.3L227.4 204.3L229.4 204.3L231.4 204.3L233.4 204.3L235.4 204.3L237.4 204.3L239.4 204.3L241.4 204.3L243.4 204.3L244 204.3" fill="none" stroke="#444" stroke-width="1.6"/><path d="M252.5 16.8V145.5H412" stroke="#b0b0b0" stroke-width="1" fill="none"/><text x="250.3" y="20.22" font-size="10.4" text-anchor="end" fill="#231f20" stroke="#231f20" stroke-width="0.12">0.005</text><text x="250.3" y="33" font-size="10.4" text-anchor="end" fill="#231f20" stroke="#231f20" stroke-width="0.12">0</text><text x="250.3" y="45.78" font-size="10.4" text-anchor="end" fill="#231f20" stroke="#231f20" stroke-width="0.12">−0.005</text><text x="250.3" y="71.34" font-size="10.4" text-anchor="end" fill="#231f20" stroke="#231f20" stroke-width="0.12">−0.015</text><text x="250.3" y="96.9" font-size="10.4" text-anchor="end" fill="#231f20" stroke="#231f20" stroke-width="0.12">−0.025</text><text x="250.3" y="122.46" font-size="10.4" text-anchor="end" fill="#231f20" stroke="#231f20" stroke-width="0.12">−0.035</text><text x="250.3" y="148.02" font-size="10.4" text-anchor="end" fill="#231f20" stroke="#231f20" stroke-width="0.12">−0.045</text><path d="M252.5 145.5V143.5" stroke="#b0b0b0" stroke-width="1"/><path d="M275.36 145.5V143.5" stroke="#b0b0b0" stroke-width="1"/><path d="M298.22 145.5V143.5" stroke="#b0b0b0" stroke-width="1"/><path d="M321.08 145.5V143.5" stroke="#b0b0b0" stroke-width="1"/><path d="M343.94 145.5V143.5" stroke="#b0b0b0" stroke-width="1"/><path d="M366.8 145.5V143.5" stroke="#b0b0b0" stroke-width="1"/><path d="M389.66 145.5V143.5" stroke="#b0b0b0" stroke-width="1"/><path d="M412.52 145.5V143.5" stroke="#b0b0b0" stroke-width="1"/><text x="252.5" y="157" font-size="10.4" text-anchor="middle" fill="#231f20" stroke="#231f20" stroke-width="0.12">0</text><text x="275.36" y="157" font-size="10.4" text-anchor="middle" fill="#231f20" stroke="#231f20" stroke-width="0.12">500</text><text x="321.08" y="158" font-size="10.4" text-anchor="middle" fill="#231f20" stroke="#231f20" stroke-width="0.12">1500</text><text x="366.8" y="158" font-size="10.4" text-anchor="middle" fill="#231f20" stroke="#231f20" stroke-width="0.12">2500</text><text x="412.52" y="158" font-size="10.4" text-anchor="middle" fill="#231f20" stroke="#231f20" stroke-width="0.12">3500</text><path d="M252.5 29.8L252.55 30.81L252.6 33.08L252.65 36.39L252.7 40.48L252.75 45.09L252.8 50L252.85 57.19L252.9 67.05L252.95 76.88L253 84L253.05 88.7L253.1 93.05L253.15 97.06L253.2 100.71L253.25 104.01L253.3 106.95L253.35 109.52L253.4 111.72L253.45 113.55L253.5 115L253.55 116.22L253.6 117.38L253.65 118.47L253.7 119.5L253.75 120.48L253.8 121.39L253.85 122.25L253.9 123.07L253.95 123.83L254 124.55L254.05 125.23L254.1 125.87L254.15 126.47L254.25 127.57L254.35 128.56L254.45 129.47L254.55 130.3L254.65 131.09L254.75 131.88L254.85 132.65L254.95 133.41L255.05 134.14L255.15 134.85L255.25 135.51L255.35 136.13L255.5 136.95L255.65 137.64L255.85 138.29L256.55 137.57L256.7 136.83L256.85 135.94L256.95 135.28L257.05 134.56L257.15 133.8L257.25 133.01L257.35 132.19L257.45 131.35L257.55 130.49L257.65 129.63L257.75 128.74L257.85 127.64L257.9 127.02L257.95 126.36L258 125.66L258.05 124.94L258.1 124.2L258.15 123.44L258.2 122.68L258.25 121.91L258.3 121.15L258.35 120.4L258.4 119.68L258.45 118.97L258.5 118.3L258.55 117.65L258.6 116.99L258.65 116.34L258.7 115.68L258.75 115.02L258.8 114.37L258.85 113.72L258.9 113.06L258.95 112.41L259 111.76L259.05 111.12L259.1 110.47L259.15 109.83L259.2 109.19L259.25 108.55L259.3 107.92L259.35 107.29L259.4 106.67L259.45 106.05L259.5 105.43L259.55 104.82L259.6 104.21L259.7 103.02L259.8 101.85L259.9 100.71L260 99.6L260.1 98.51L260.2 97.44L260.3 96.37L260.4 95.33L260.5 94.29L260.6 93.28L260.7 92.27L260.8 91.29L260.9 90.32L261 89.36L261.1 88.42L261.2 87.5L261.3 86.6L261.4 85.72L261.5 84.85L261.6 84L261.7 83.18L261.8 82.38L261.9 81.61L262 80.86L262.1 80.14L262.2 79.43L262.3 78.73L262.4 78.04L262.5 77.36L262.6 76.69L262.7 76.02L262.8 75.34L262.9 74.66L263 73.97L263.1 73.28L263.2 72.57L263.3 71.84L263.4 71.09L263.5 70.32L263.6 69.52L263.7 68.7L263.8 67.84L263.9 66.96L264 66.05L264.1 65.12L264.2 64.16L264.3 63.19L264.4 62.21L264.5 61.21L264.6 60.2L264.7 59.18L264.8 58.16L264.9 57.14L265 56.12L265.1 55.11L265.2 54.1L265.3 53.07L265.4 51.99L265.5 50.87L265.6 49.73L265.7 48.57L265.8 47.42L265.9 46.27L266 45.15L266.1 44.07L266.2 43.03L266.3 42.05L266.4 41.15L266.5 40.33L266.6 39.6L266.7 38.94L266.8 38.29L266.9 37.67L267 37.06L267.15 36.19L267.3 35.37L267.45 34.59L267.6 33.86L267.75 33.18L267.9 32.55L268.1 31.78L268.3 31.11L268.55 30.37L268.8 29.7L269.05 29.09L269.35 28.44L269.7 27.82L270.2 27.17L270.8 26.53L271.55 25.91L272.8 25.3L274.8 24.9L276.8 25.35L278.35 25.96L279.95 26.56L281.35 27.18L282.7 27.79L284.3 28.4L286.3 28.91L288.3 29.35L290.3 29.67L292.3 29.81L294.3 29.85L296.3 29.89L298.3 29.93L300.3 29.96L302.3 29.99L304.3 30.02L306.3 30.04L308.3 30.05L310.3 30.07L312.3 30.08L314.3 30.09L316.3 30.1L318.3 30.1L320.3 30.1L320.4 30.1" fill="none" stroke="#555" stroke-width="1.3"/><polygon points="251.9,34.2 255.7,34.2 253.8,37.6" fill="#fff" stroke="#888" stroke-width="0.6"/><polygon points="259.2,36.4 263,36.4 261.1,39.8" fill="#fff" stroke="#888" stroke-width="0.6"/><polygon points="252.6,40.8 256.4,40.8 254.5,44.2" fill="#fff" stroke="#888" stroke-width="0.6"/><polygon points="253.4,45.1 257.2,45.1 255.3,48.5" fill="#fff" stroke="#888" stroke-width="0.6"/><polygon points="253.4,49.5 257.2,49.5 255.3,52.9" fill="#fff" stroke="#888" stroke-width="0.6"/><polygon points="253.4,56.8 257.2,56.8 255.3,60.2" fill="#fff" stroke="#888" stroke-width="0.6"/><polygon points="258.5,61.9 262.3,61.9 260.4,65.3" fill="#fff" stroke="#888" stroke-width="0.6"/><polygon points="254.1,64.1 257.9,64.1 256,67.5" fill="#fff" stroke="#888" stroke-width="0.6"/><polygon points="254.8,69.9 258.6,69.9 256.7,73.3" fill="#fff" stroke="#888" stroke-width="0.6"/><polygon points="257.3,84.6 261.1,84.6 259.2,88" fill="#fff" stroke="#888" stroke-width="0.6"/><polygon points="254.2,88.5 258,88.5 256.1,91.9" fill="#fff" stroke="#888" stroke-width="0.6"/><polygon points="255,103.3 258.8,103.3 256.9,106.7" fill="#fff" stroke="#888" stroke-width="0.6"/><polygon points="255,121.3 258.8,121.3 256.9,124.7" fill="#fff" stroke="#888" stroke-width="0.6"/><polygon points="258.1,125.1 261.9,125.1 260,128.5" fill="#fff" stroke="#888" stroke-width="0.6"/><polygon points="256.6,136.8 260.4,136.8 258.5,140.2" fill="#fff" stroke="#888" stroke-width="0.6"/><polygon points="290,29.5 293.8,29.5 291.9,32.9" fill="#fff" stroke="#888" stroke-width="0.6"/><polygon points="297.5,29.5 301.3,29.5 299.4,32.9" fill="#fff" stroke="#888" stroke-width="0.6"/><polygon points="309.2,29.5 313,29.5 311.1,32.9" fill="#fff" stroke="#888" stroke-width="0.6"/><polygon points="326.7,29.5 330.5,29.5 328.6,32.9" fill="#fff" stroke="#888" stroke-width="0.6"/><polygon points="355.1,29.5 358.9,29.5 357,32.9" fill="#fff" stroke="#888" stroke-width="0.6"/><polygon points="400.4,29.5 404.2,29.5 402.3,32.9" fill="#fff" stroke="#888" stroke-width="0.6"/><path d="M259 28.8H285L283 32.5H262Z" fill="#999"/><path d="M259 28.8H271L269 32.5H262Z" fill="#333"/><path d="M565.8 23.8V388.9H1003.4" stroke="#a8a8a8" stroke-width="1.6" fill="none"/><path d="M565.8 23.8H569.8" stroke="#a8a8a8" stroke-width="1.6" fill="none"/><text x="561" y="26.6" font-size="13.5" text-anchor="end" fill="#231f20" stroke="#231f20" stroke-width="0.3">1</text><path d="M565.8 60.24H569.8" stroke="#a8a8a8" stroke-width="1.6" fill="none"/><text x="562" y="65.04" font-size="13.5" text-anchor="end" fill="#231f20" stroke="#231f20" stroke-width="0.3">0.8</text><path d="M565.8 96.68H569.8" stroke="#a8a8a8" stroke-width="1.6" fill="none"/><text x="562" y="101.48" font-size="13.5" text-anchor="end" fill="#231f20" stroke="#231f20" stroke-width="0.3">0.6</text><path d="M565.8 133.12H569.8" stroke="#a8a8a8" stroke-width="1.6" fill="none"/><text x="562" y="137.92" font-size="13.5" text-anchor="end" fill="#231f20" stroke="#231f20" stroke-width="0.3">0.4</text><path d="M565.8 169.56H569.8" stroke="#a8a8a8" stroke-width="1.6" fill="none"/><text x="562" y="174.36" font-size="13.5" text-anchor="end" fill="#231f20" stroke="#231f20" stroke-width="0.3">0.2</text><path d="M565.8 206H569.8" stroke="#a8a8a8" stroke-width="1.6" fill="none"/><text x="558.8" y="210.8" font-size="13.5" text-anchor="end" fill="#231f20" stroke="#231f20" stroke-width="0.3">0</text><path d="M565.8 242.44H569.8" stroke="#a8a8a8" stroke-width="1.6" fill="none"/><text x="562" y="247.24" font-size="13.5" text-anchor="end" fill="#231f20" stroke="#231f20" stroke-width="0.3">−0.2</text><path d="M565.8 278.88H569.8" stroke="#a8a8a8" stroke-width="1.6" fill="none"/><text x="562" y="283.68" font-size="13.5" text-anchor="end" fill="#231f20" stroke="#231f20" stroke-width="0.3">−0.4</text><path d="M565.8 315.32H569.8" stroke="#a8a8a8" stroke-width="1.6" fill="none"/><text x="562" y="320.12" font-size="13.5" text-anchor="end" fill="#231f20" stroke="#231f20" stroke-width="0.3">−0.6</text><path d="M565.8 351.76H569.8" stroke="#a8a8a8" stroke-width="1.6" fill="none"/><text x="562" y="356.56" font-size="13.5" text-anchor="end" fill="#231f20" stroke="#231f20" stroke-width="0.3">−0.8</text><path d="M565.8 388.2H569.8" stroke="#a8a8a8" stroke-width="1.6" fill="none"/><text x="562" y="393" font-size="13.5" text-anchor="end" fill="#231f20" stroke="#231f20" stroke-width="0.3">−1</text><path d="M565.8 388.9V384.2" stroke="#a8a8a8" stroke-width="1.6" fill="none"/><text x="565.8" y="404.5" font-size="13.5" text-anchor="middle" fill="#231f20" stroke="#231f20" stroke-width="0.3">0</text><path d="M620.5 388.9V384.2" stroke="#a8a8a8" stroke-width="1.6" fill="none"/><text x="620.5" y="404.5" font-size="13.5" text-anchor="middle" fill="#231f20" stroke="#231f20" stroke-width="0.3">200</text><path d="M675.2 388.9V384.2" stroke="#a8a8a8" stroke-width="1.6" fill="none"/><text x="675.2" y="404.5" font-size="13.5" text-anchor="middle" fill="#231f20" stroke="#231f20" stroke-width="0.3">400</text><path d="M729.9 388.9V384.2" stroke="#a8a8a8" stroke-width="1.6" fill="none"/><text x="729.9" y="404.5" font-size="13.5" text-anchor="middle" fill="#231f20" stroke="#231f20" stroke-width="0.3">600</text><path d="M784.6 388.9V384.2" stroke="#a8a8a8" stroke-width="1.6" fill="none"/><text x="784.6" y="404.5" font-size="13.5" text-anchor="middle" fill="#231f20" stroke="#231f20" stroke-width="0.3">800</text><path d="M839.3 388.9V384.2" stroke="#a8a8a8" stroke-width="1.6" fill="none"/><text x="839.3" y="404.5" font-size="13.5" text-anchor="middle" fill="#231f20" stroke="#231f20" stroke-width="0.3">1000</text><path d="M894 388.9V384.2" stroke="#a8a8a8" stroke-width="1.6" fill="none"/><text x="894" y="404.5" font-size="13.5" text-anchor="middle" fill="#231f20" stroke="#231f20" stroke-width="0.3">1200</text><path d="M948.7 388.9V384.2" stroke="#a8a8a8" stroke-width="1.6" fill="none"/><text x="948.7" y="404.5" font-size="13.5" text-anchor="middle" fill="#231f20" stroke="#231f20" stroke-width="0.3">1400</text><path d="M1003.4 388.9V384.2" stroke="#a8a8a8" stroke-width="1.6" fill="none"/><text x="1003.4" y="404.5" font-size="13.5" text-anchor="middle" fill="#231f20" stroke="#231f20" stroke-width="0.3">1600</text><text x="955.8" y="374" font-size="16" text-anchor="start" fill="#231f20" stroke="#231f20" stroke-width="0.3" textLength="46" lengthAdjust="spacingAndGlyphs">Time, s</text><text transform="translate(533.8 272.5) rotate(-90)" font-size="16" fill="#231f20" stroke="#231f20" stroke-width="0.3" textLength="179" lengthAdjust="spacingAndGlyphs">CIDNP intensity, abs units</text><text x="512.8" y="26.2" font-size="32.3" text-anchor="start" fill="#000" stroke="#000" stroke-width="0.3">(b)</text><polygon points="570.65,212.4 577.15,212.4 573.9,207.6" fill="#fff" stroke="#666" stroke-width="1.0" stroke-linejoin="miter"/><polygon points="596.85,197.5 603.35,197.5 600.1,192.7" fill="#fff" stroke="#666" stroke-width="1.0" stroke-linejoin="miter"/><polygon points="598.45,197.9 604.95,197.9 601.7,193.1" fill="#fff" stroke="#666" stroke-width="1.0" stroke-linejoin="miter"/><polygon points="593.25,204.5 599.75,204.5 596.5,199.7" fill="#fff" stroke="#666" stroke-width="1.0" stroke-linejoin="miter"/><polygon points="600.55,202.7 607.05,202.7 603.8,197.9" fill="#fff" stroke="#666" stroke-width="1.0" stroke-linejoin="miter"/><polygon points="602.95,202.6 609.45,202.6 606.2,197.8" fill="#fff" stroke="#666" stroke-width="1.0" stroke-linejoin="miter"/><polygon points="615.15,203.4 621.65,203.4 618.4,198.6" fill="#fff" stroke="#666" stroke-width="1.0" stroke-linejoin="miter"/><polygon points="590.35,223.4 596.85,223.4 593.6,218.6" fill="#fff" stroke="#666" stroke-width="1.0" stroke-linejoin="miter"/><polygon points="588.15,226.3 594.65,226.3 591.4,221.5" fill="#fff" stroke="#666" stroke-width="1.0" stroke-linejoin="miter"/><polygon points="585.95,232.1 592.45,232.1 589.2,227.3" fill="#fff" stroke="#666" stroke-width="1.0" stroke-linejoin="miter"/><polygon points="574.95,263.8 581.45,263.8 578.2,259" fill="#fff" stroke="#666" stroke-width="1.0" stroke-linejoin="miter"/><polygon points="583.05,275.5 589.55,275.5 586.3,270.7" fill="#fff" stroke="#666" stroke-width="1.0" stroke-linejoin="miter"/><polygon points="577.15,307.8 583.65,307.8 580.4,303" fill="#fff" stroke="#666" stroke-width="1.0" stroke-linejoin="miter"/><polygon points="580.65,337.4 587.15,337.4 583.9,332.6" fill="#fff" stroke="#666" stroke-width="1.0" stroke-linejoin="miter"/><polygon points="581.85,366.6 588.35,366.6 585.1,361.8" fill="#fff" stroke="#666" stroke-width="1.0" stroke-linejoin="miter"/><polygon points="661.95,202.9 668.45,202.9 665.2,198.1" fill="#fff" stroke="#666" stroke-width="1.0" stroke-linejoin="miter"/><polygon points="973.65,202.9 980.15,202.9 976.9,198.1" fill="#fff" stroke="#666" stroke-width="1.0" stroke-linejoin="miter"/><rect x="582.2" y="20.9" width="5.2" height="5.2" fill="#000"/><rect x="580" y="26.3" width="5.2" height="5.2" fill="#000"/><rect x="584.4" y="41.3" width="5.2" height="5.2" fill="#000"/><rect x="577.8" y="48.9" width="5.2" height="5.2" fill="#000"/><rect x="586.6" y="56.5" width="5.2" height="5.2" fill="#000"/><rect x="588.8" y="62.8" width="5.2" height="5.2" fill="#000"/><rect x="591.3" y="61.7" width="5.2" height="5.2" fill="#000"/><rect x="593.9" y="69" width="5.2" height="5.2" fill="#000"/><rect x="575.6" y="67.8" width="5.2" height="5.2" fill="#000"/><rect x="596.1" y="83.2" width="5.2" height="5.2" fill="#000"/><rect x="573.8" y="89.3" width="5.2" height="5.2" fill="#000"/><rect x="598.6" y="92.2" width="5.2" height="5.2" fill="#000"/><rect x="601.2" y="97.3" width="5.2" height="5.2" fill="#000"/><rect x="603.8" y="112.9" width="5.2" height="5.2" fill="#000"/><rect x="571.3" y="118.5" width="5.2" height="5.2" fill="#000"/><rect x="615.8" y="144.3" width="5.2" height="5.2" fill="#000"/><rect x="662.6" y="169.9" width="5.2" height="5.2" fill="#000"/><rect x="747" y="197.1" width="5.2" height="5.2" fill="#000"/><rect x="840" y="199.2" width="5.2" height="5.2" fill="#000"/><rect x="974.3" y="203.4" width="5.2" height="5.2" fill="#000"/><circle cx="573.9" cy="223.9" r="3.1" fill="#000"/><circle cx="576.1" cy="236.4" r="3.1" fill="#000"/><circle cx="578.2" cy="248.2" r="3.1" fill="#000"/><circle cx="580.4" cy="256.3" r="3.1" fill="#000"/><circle cx="582.6" cy="259.2" r="3.1" fill="#000"/><circle cx="618.4" cy="259.2" r="3.1" fill="#000"/><circle cx="584.8" cy="279.9" r="3.1" fill="#000"/><circle cx="606" cy="279.9" r="3.1" fill="#000"/><circle cx="601.6" cy="289.1" r="3.1" fill="#000"/><circle cx="603.8" cy="289.8" r="3.1" fill="#000"/><circle cx="600.9" cy="289.4" r="3.1" fill="#000"/><circle cx="598" cy="293" r="3.1" fill="#000"/><circle cx="595.8" cy="295.2" r="3.1" fill="#000"/><circle cx="587.7" cy="308.4" r="3.1" fill="#000"/><circle cx="593.9" cy="311.3" r="3.1" fill="#000"/><circle cx="589.2" cy="316.4" r="3.1" fill="#000"/><circle cx="591.4" cy="328.8" r="3.1" fill="#000"/><circle cx="665.2" cy="238.4" r="3.1" fill="#000"/><circle cx="749.9" cy="218.2" r="3.1" fill="#000"/><circle cx="842.6" cy="209.7" r="3.1" fill="#000"/><circle cx="976.9" cy="206.8" r="3.1" fill="#000"/><circle cx="565.7" cy="206.2" r="3.7" fill="#000"/><path d="M565.8 206L565.9 203.34L566 200.69L566.1 198.05L566.2 195.41L566.3 192.79L566.4 190.18L566.5 187.58L566.6 185L566.7 182.42L566.8 179.83L566.9 177.23L567 174.61L567.1 172L567.2 169.38L567.3 166.77L567.4 164.16L567.5 161.56L567.6 158.97L567.7 156.4L567.8 153.84L567.9 151.31L568 148.8L568.1 146.32L568.2 143.87L568.3 141.45L568.4 139.08L568.5 136.74L568.6 134.44L568.7 132.2L568.8 130L568.9 127.83L569 125.67L569.1 123.51L569.2 121.35L569.3 119.21L569.4 117.08L569.5 114.96L569.6 112.86L569.7 110.77L569.8 108.7L569.9 106.64L570 104.61L570.1 102.61L570.2 100.62L570.3 98.67L570.4 96.74L570.5 94.84L570.6 92.97L570.7 91.14L570.8 89.34L570.9 87.58L571 85.85L571.1 84.17L571.2 82.52L571.3 80.93L571.4 79.37L571.5 77.87L571.6 76.41L571.7 75L571.8 73.64L571.9 72.31L572 71.02L572.1 69.77L572.2 68.54L572.3 67.36L572.4 66.2L572.5 65.08L572.6 63.98L572.7 62.92L572.8 61.88L572.9 60.87L573 59.89L573.1 58.93L573.2 58L573.3 57.1L573.4 56.23L573.5 55.39L573.6 54.58L573.7 53.79L573.8 53.03L573.9 52.28L574 51.54L574.1 50.82L574.2 50.1L574.3 49.38L574.4 48.67L574.5 47.96L574.6 47.25L574.7 46.56L574.8 45.87L574.9 45.19L575 44.53L575.1 43.88L575.2 43.25L575.3 42.63L575.5 41.47L575.7 40.4L575.9 39.41L576.1 38.45L576.3 37.53L576.5 36.66L576.7 35.82L576.9 35.03L577.1 34.28L577.3 33.57L577.5 32.91L577.7 32.29L577.9 31.68L578.1 31.08L578.4 30.21L578.7 29.39L579 28.63L579.3 27.95L579.7 27.21L580.2 26.57L580.8 25.91L581.5 25.22L582.3 24.58L584.3 24.03L585.8 24.67L586.7 25.35L587.4 25.96L588.1 26.61L588.7 27.25L589.2 28L589.6 28.72L590 29.49L590.3 30.11L590.6 30.73L590.9 31.34L591.2 31.95L591.6 32.71L592 33.4L592.5 34.09L593 34.74L593.4 35.4L593.8 36.15L594.2 36.96L594.5 37.62L594.8 38.32L595.1 39.04L595.4 39.79L595.7 40.58L596 41.38L596.3 42.21L596.6 43.06L596.9 43.92L597.2 44.8L597.5 45.7L597.7 46.3L597.9 46.92L598.1 47.53L598.3 48.15L598.5 48.77L598.7 49.4L598.9 50.03L599.1 50.67L599.3 51.3L599.5 51.94L599.7 52.59L599.9 53.23L600.1 53.88L600.3 54.52L600.5 55.17L600.7 55.82L600.9 56.48L601.1 57.13L601.3 57.78L601.5 58.43L601.7 59.09L601.9 59.74L602.1 60.39L602.3 61.04L602.5 61.7L602.7 62.35L602.9 63L603.1 63.65L603.3 64.3L603.5 64.95L603.7 65.6L603.9 66.24L604.1 66.89L604.3 67.53L604.5 68.17L604.7 68.81L604.9 69.45L605.1 70.09L605.3 70.73L605.5 71.36L605.7 72L605.9 72.63L606.1 73.26L606.3 73.88L606.5 74.51L606.7 75.13L606.9 75.75L607.1 76.37L607.3 76.99L607.5 77.6L607.7 78.22L607.9 78.83L608.1 79.43L608.3 80.04L608.5 80.64L608.7 81.24L609 82.14L609.3 83.03L609.6 83.92L609.9 84.8L610.2 85.68L610.5 86.55L610.8 87.41L611.1 88.27L611.4 89.13L611.7 89.98L612 90.82L612.3 91.66L612.6 92.49L612.9 93.32L613.2 94.14L613.5 94.95L613.8 95.76L614.1 96.57L614.4 97.36L614.7 98.16L615 98.95L615.3 99.73L615.6 100.5L615.9 101.28L616.2 102.04L616.5 102.8L616.8 103.56L617.1 104.31L617.4 105.05L617.7 105.79L618 106.53L618.3 107.25L618.6 107.98L618.9 108.7L619.2 109.41L619.5 110.12L619.8 110.82L620.1 111.52L620.4 112.21L620.7 112.9L621 113.58L621.3 114.26L621.6 114.93L621.9 115.6L622.2 116.27L622.5 116.93L622.8 117.58L623.1 118.23L623.4 118.87L623.7 119.51L624 120.15L624.3 120.78L624.6 121.4L624.9 122.02L625.2 122.64L625.5 123.25L625.8 123.86L626.1 124.46L626.5 125.26L626.9 126.05L627.3 126.83L627.7 127.61L628.1 128.37L628.5 129.13L628.9 129.89L629.3 130.63L629.7 131.37L630.1 132.1L630.5 132.82L630.9 133.54L631.3 134.25L631.7 134.95L632.1 135.64L632.5 136.33L632.9 137.01L633.3 137.69L633.7 138.36L634.1 139.02L634.5 139.67L634.9 140.32L635.3 140.97L635.7 141.6L636.1 142.23L636.5 142.86L636.9 143.47L637.3 144.09L637.7 144.69L638.2 145.44L638.7 146.18L639.2 146.91L639.7 147.63L640.2 148.35L640.7 149.05L641.2 149.75L641.7 150.43L642.2 151.11L642.7 151.78L643.2 152.45L643.7 153.1L644.2 153.75L644.7 154.39L645.2 155.02L645.7 155.64L646.2 156.25L646.7 156.86L647.2 157.46L647.8 158.17L648.4 158.87L649 159.56L649.6 160.24L650.2 160.91L650.8 161.57L651.4 162.22L652 162.87L652.6 163.5L653.2 164.12L653.8 164.73L654.4 165.34L655.1 166.03L655.8 166.71L656.5 167.38L657.2 168.04L657.9 168.69L658.6 169.33L659.3 169.95L660 170.57L660.7 171.17L661.5 171.85L662.3 172.52L663.1 173.17L663.9 173.81L664.7 174.43L665.5 175.05L666.3 175.65L667.2 176.32L668.1 176.97L669 177.6L669.9 178.22L670.8 178.83L671.8 179.49L672.8 180.13L673.8 180.76L674.8 181.38L675.9 182.03L677 182.67L678.1 183.29L679.2 183.9L680.4 184.54L681.6 185.17L682.8 185.77L684.1 186.41L685.4 187.02L686.8 187.67L688.2 188.29L689.7 188.93L691.2 189.55L692.8 190.18L694.4 190.79L696.1 191.41L697.9 192.05L699.7 192.65L701.6 193.26L703.6 193.87L705.6 194.45L707.6 195.01L709.6 195.53L711.6 196.04L713.6 196.51L715.6 196.97L717.6 197.4L719.6 197.82L721.6 198.21L723.6 198.58L725.6 198.94L727.6 199.28L729.6 199.6L731.6 199.91L733.6 200.2L735.6 200.48L737.6 200.74L739.6 200.99L741.6 201.23L743.6 201.46L745.6 201.68L747.6 201.89L749.6 202.09L751.6 202.27L753.6 202.45L755.6 202.62L757.6 202.78L759.6 202.94L761.6 203.09L763.6 203.23L765.6 203.36L767.6 203.49L769.6 203.61L771.6 203.72L773.6 203.83L775.6 203.93L777.6 204.03L779.6 204.13L781.6 204.22L783.6 204.3L785.6 204.38L787.6 204.46L789.6 204.54L791.6 204.61L793.6 204.67L795.6 204.74L797.6 204.8L799.6 204.86L801.6 204.91L803.6 204.96L805.6 205.01L807.6 205.06L809.6 205.1L811.6 205.15L813.6 205.19L815.6 205.23L817.6 205.26L819.6 205.3L821.6 205.33L823.6 205.37L825.6 205.4L827.6 205.42L829.6 205.45L831.6 205.48L833.6 205.5L835.6 205.53L837.6 205.55L839.6 205.57L841.6 205.59L843.6 205.61L845.6 205.63L847.6 205.65L849.6 205.67L851.6 205.68L853.6 205.7L855.6 205.71L857.6 205.72L859.6 205.74L861.6 205.75L863.6 205.76L865.6 205.77L867.6 205.78L869.6 205.8L871.6 205.81L873.6 205.81L875.6 205.82L877.6 205.83L879.6 205.84L881.6 205.85L883.6 205.85L885.6 205.86L887.6 205.87L889.6 205.87L891.6 205.88L893.6 205.89L895.6 205.89L897.6 205.9L899.6 205.9L901.6 205.91L903.6 205.91L905.6 205.92L907.6 205.92L909.6 205.92L911.6 205.93L913.6 205.93L915.6 205.93L917.6 205.94L919.6 205.94L921.6 205.94L923.6 205.95L925.6 205.95L927.6 205.95L929.6 205.95L931.6 205.96L933.6 205.96L935.6 205.96L937.6 205.96L939.6 205.96L941.6 205.97L943.6 205.97L945.6 205.97L947.6 205.97L949.6 205.97L951.6 205.97L953.6 205.97L955.6 205.98L957.6 205.98L959.6 205.98L961.6 205.98L963.6 205.98L965.6 205.98L967.6 205.98L969.6 205.98L971.6 205.98L973.6 205.98L975.6 205.98L976 205.99" fill="none" stroke="#363636" stroke-width="2.8" stroke-linejoin="round"/><path d="M565.8 206L565.9 208.17L566 210.34L566.1 212.51L566.2 214.67L566.3 216.83L566.4 219L566.5 221.15L566.6 223.31L566.7 225.47L566.8 227.62L566.9 229.77L567 231.92L567.1 234.06L567.2 236.21L567.3 238.35L567.4 240.49L567.5 242.63L567.6 244.77L567.7 246.9L567.8 249.03L567.9 251.16L568 253.29L568.1 255.42L568.2 257.54L568.3 259.67L568.4 261.79L568.5 263.91L568.6 266.03L568.7 268.14L568.8 270.25L568.9 272.37L569 274.48L569.1 276.58L569.2 278.69L569.3 280.8L569.4 282.9L569.5 285L569.6 287.13L569.7 289.33L569.8 291.59L569.9 293.89L570 296.23L570.1 298.61L570.2 301.01L570.3 303.43L570.4 305.86L570.5 308.3L570.6 310.73L570.7 313.14L570.8 315.54L570.9 317.91L571 320.24L571.1 322.54L571.2 324.78L571.3 326.96L571.4 329.08L571.5 331.13L571.6 333.09L571.7 334.97L571.8 336.75L571.9 338.43L572 339.99L572.1 341.44L572.2 342.76L572.3 343.95L572.4 345L572.5 345.97L572.6 346.94L572.7 347.9L572.8 348.85L572.9 349.79L573 350.72L573.1 351.63L573.2 352.53L573.3 353.41L573.4 354.27L573.5 355.11L573.6 355.93L573.7 356.72L573.8 357.48L573.9 358.22L574 358.92L574.1 359.6L574.2 360.23L574.3 360.84L574.5 361.93L574.7 362.85L574.9 363.59L575.2 364.34L576.1 363.52L576.3 362.75L576.5 361.8L576.7 360.72L576.9 359.52L577 358.88L577.1 358.22L577.2 357.55L577.3 356.86L577.4 356.16L577.5 355.45L577.6 354.74L577.7 354.02L577.8 353.31L577.9 352.6L578 351.9L578.1 351.2L578.2 350.52L578.3 349.86L578.4 349.22L578.5 348.6L578.7 347.42L578.9 346.24L579.1 345.05L579.2 344.45L579.3 343.84L579.4 343.23L579.5 342.62L579.6 342L579.7 341.39L579.8 340.76L579.9 340.14L580 339.51L580.1 338.87L580.2 338.23L580.3 337.59L580.4 336.95L580.5 336.3L580.6 335.65L580.7 334.99L580.8 334.33L580.9 333.66L581 332.99L581.1 332.32L581.2 331.65L581.3 330.97L581.4 330.28L581.5 329.59L581.6 328.9L581.7 328.2L581.8 327.5L581.9 326.78L582 326.06L582.1 325.33L582.2 324.6L582.3 323.86L582.4 323.11L582.5 322.36L582.6 321.6L582.7 320.84L582.8 320.07L582.9 319.3L583 318.52L583.1 317.74L583.2 316.95L583.3 316.17L583.4 315.37L583.5 314.58L583.6 313.78L583.7 312.98L583.8 312.18L583.9 311.38L584 310.57L584.1 309.76L584.2 308.96L584.3 308.15L584.4 307.34L584.5 306.53L584.6 305.72L584.7 304.91L584.8 304.1L584.9 303.3L585 302.49L585.1 301.69L585.2 300.89L585.3 300.09L585.4 299.29L585.5 298.49L585.6 297.7L585.7 296.91L585.8 296.13L585.9 295.34L586 294.57L586.1 293.79L586.2 293.02L586.3 292.26L586.4 291.5L586.5 290.75L586.6 290L586.7 289.26L586.8 288.51L586.9 287.76L587 287.02L587.1 286.27L587.2 285.53L587.3 284.78L587.4 284.03L587.5 283.29L587.6 282.54L587.7 281.8L587.8 281.05L587.9 280.31L588 279.57L588.1 278.83L588.2 278.09L588.3 277.35L588.4 276.61L588.5 275.88L588.6 275.14L588.7 274.41L588.8 273.68L588.9 272.95L589 272.22L589.1 271.49L589.2 270.77L589.3 270.05L589.4 269.33L589.5 268.62L589.6 267.9L589.7 267.19L589.8 266.48L589.9 265.78L590 265.08L590.1 264.38L590.2 263.68L590.3 262.99L590.4 262.3L590.5 261.62L590.6 260.94L590.7 260.26L590.8 259.59L590.9 258.92L591 258.26L591.1 257.6L591.2 256.94L591.3 256.29L591.4 255.64L591.5 255L591.6 254.36L591.7 253.72L591.8 253.08L591.9 252.45L592 251.81L592.1 251.17L592.2 250.54L592.3 249.91L592.4 249.28L592.5 248.65L592.6 248.02L592.7 247.4L592.8 246.78L592.9 246.16L593 245.54L593.1 244.92L593.2 244.31L593.3 243.7L593.4 243.1L593.5 242.5L593.7 241.31L593.9 240.13L594.1 238.97L594.3 237.83L594.5 236.71L594.7 235.61L594.9 234.53L595.1 233.48L595.3 232.45L595.5 231.45L595.7 230.48L595.9 229.53L596.1 228.61L596.3 227.7L596.5 226.82L596.7 225.95L596.9 225.11L597.1 224.28L597.3 223.47L597.5 222.68L597.7 221.91L597.9 221.16L598.1 220.42L598.3 219.7L598.5 219L598.7 218.32L598.9 217.66L599.1 217.03L599.3 216.42L599.5 215.81L599.8 214.93L600.1 214.06L600.4 213.19L600.7 212.3L600.9 211.7L601.1 211.09L601.3 210.47L601.5 209.86L601.7 209.24L601.9 208.63L602.1 208.02L602.3 207.42L602.6 206.53L602.9 205.68L603.2 204.85L603.5 204.01L603.8 203.18L604.1 202.37L604.4 201.57L604.7 200.81L605 200.09L605.3 199.41L605.6 198.8L606 198.04L606.4 197.32L606.8 196.64L607.2 195.99L607.6 195.38L608.1 194.68L608.6 194.05L609.2 193.37L609.8 192.73L610.4 192.12L611.1 191.47L611.9 190.82L612.8 190.21L614.1 189.57L615.7 188.96L617.7 188.61L619.7 188.45L621.7 188.41L623.7 188.59L625.7 188.9L627.7 189.34L629.7 189.93L631.6 190.53L633.5 191.16L635.2 191.78L636.9 192.41L638.6 193.03L640.3 193.64L642 194.27L643.7 194.89L645.4 195.5L647.3 196.13L649.3 196.72L651.3 197.29L653.3 197.84L655.3 198.36L657.3 198.87L659.3 199.34L661.3 199.79L663.3 200.22L665.3 200.62L667.3 201.01L669.3 201.4L671.3 201.78L673.3 202.15L675.3 202.5L677.3 202.82L679.3 203.11L681.3 203.37L683.3 203.58L685.3 203.75L687.3 203.9L689.3 204.04L691.3 204.19L693.3 204.32L695.3 204.45L697.3 204.58L699.3 204.7L701.3 204.82L703.3 204.93L705.3 205.03L707.3 205.13L709.3 205.22L711.3 205.3L713.3 205.38L715.3 205.44L717.3 205.51L719.3 205.56L721.3 205.61L723.3 205.65L725.3 205.68L727.3 205.7L729.3 205.71L731.3 205.73L733.3 205.74L735.3 205.76L737.3 205.77L739.3 205.79L741.3 205.8L743.3 205.82L745.3 205.83L747.3 205.84L749.3 205.85L751.3 205.86L753.3 205.87L755.3 205.88L757.3 205.89L759.3 205.9L761.3 205.91L763.3 205.92L765.3 205.93L767.3 205.94L769.3 205.95L771.3 205.95L773.3 205.96L775.3 205.96L777.3 205.97L779.3 205.98L781.3 205.98L783.3 205.98L785.3 205.99L787.3 205.99L789.3 205.99L791.3 206L793.3 206L795.3 206L797.3 206L799.3 206L801.3 206L803.3 206L805.3 206L807.3 206L809.3 206L811.3 206L813.3 206L815.3 206L817.3 206L819.3 206L821.3 206L823.3 206L825.3 206L827.3 206L829.3 206L831.3 206L833.3 206L835.3 206L837.3 206L839.3 206L841.3 206L843.3 206L845.3 206L847.3 206L849.3 206L851.3 206L853.3 206L855.3 206L857.3 206L859.3 206L861.3 206L863.3 206L865.3 206L867.3 206L869.3 206L871.3 206L873.3 206L875.3 206L877.3 206L879.3 206L881.3 206L883.3 206L885.3 206L887.3 206L889.3 206L891.3 206L893.3 206L895.3 206L897.3 206L899.3 206L901.3 206L903.3 206L905.3 206L907.3 206L909.3 206L911.3 206L913.3 206L915.3 206L917.3 206L919.3 206L921.3 206L923.3 206L925.3 206L927.3 206L929.3 206L931.3 206L933.3 206L935.3 206L937.3 206L939.3 206L941.3 206L943.3 206L945.3 206L947.3 206L949.3 206L951.3 206L953.3 206L955.3 206L957.3 206L959.3 206L961.3 206L963.3 206L965.3 206L967.3 206L969.3 206L971.3 206L973.3 206L975.3 206L976 206" fill="none" stroke="#363636" stroke-width="2.8" stroke-linejoin="round"/><path d="M565.8 206L565.87 207.17L565.94 208.34L566.01 209.49L566.07 210.64L566.14 211.78L566.21 212.91L566.28 214.03L566.35 215.14L566.42 216.24L566.48 217.34L566.55 218.43L566.62 219.51L566.69 220.58L566.76 221.65L566.83 222.7L566.89 223.75L566.96 224.79L567.03 225.82L567.1 226.85L567.17 227.86L567.24 228.87L567.3 229.87L567.37 230.87L567.44 231.85L567.51 232.83L567.58 233.8L567.65 234.77L567.71 235.72L567.78 236.67L567.85 237.61L567.92 238.55L567.99 239.48L568.06 240.4L568.12 241.31L568.19 242.22L568.26 243.11L568.33 244.01L568.4 244.89L568.47 245.77L568.53 246.64L568.6 247.5L568.67 248.36L568.74 249.21L568.81 250.06L568.88 250.89L568.95 251.72L569.01 252.55L569.08 253.37L569.15 254.18L569.22 254.98L569.29 255.78L569.36 256.57L569.42 257.36L569.49 258.14L569.56 258.91L569.63 259.67L569.7 260.44L569.77 261.19L569.83 261.94L569.9 262.68L569.97 263.41L570.04 264.14L570.11 264.87L570.18 265.59L570.24 266.3L570.31 267L570.38 267.7L570.45 268.4L570.52 269.09L570.59 269.77L570.65 270.45L570.72 271.12L570.79 271.79L570.86 272.45L570.93 273.1L571 273.75L571.06 274.39L571.13 275.03L571.2 275.66L571.27 276.29L571.41 277.53L572.42 286.07L573.44 293.55L574.45 300.06L575.46 305.68L576.48 310.5L577.49 314.58L578.51 318L579.52 320.81L580.53 323.07L581.55 324.84L582.56 326.16L583.58 327.07L584.59 327.62L585.6 327.84L586.62 327.76L587.63 327.42L588.65 326.84L589.66 326.05L590.68 325.08L591.69 323.94L592.7 322.65L593.72 321.24L594.73 319.71L595.75 318.09L596.76 316.39L597.77 314.61L598.79 312.78L599.8 310.9L600.82 308.97L601.83 307.02L602.85 305.04L603.86 303.05L604.87 301.04L605.89 299.03L606.9 297.03L607.92 295.02L608.93 293.02L609.94 291.04L610.96 289.07L611.97 287.12L612.99 285.19L614 283.28L615.01 281.4L616.03 279.55L617.04 277.72L618.06 275.92L619.07 274.15L620.09 272.41L621.1 270.7L622.11 269.03L623.13 267.39L624.14 265.78L625.16 264.2L626.17 262.66L627.18 261.15L628.2 259.67L629.21 258.23L630.23 256.82L631.24 255.44L632.26 254.09L633.27 252.78L634.28 251.49L635.3 250.24L636.31 249.02L637.33 247.83L638.34 246.67L639.35 245.54L640.37 244.43L641.38 243.36L642.4 242.31L643.41 241.29L644.43 240.3L645.44 239.33L646.45 238.39L647.47 237.48L648.48 236.59L649.5 235.72L650.51 234.87L651.52 234.05L652.54 233.25L653.55 232.48L654.57 231.72L655.58 230.99L656.59 230.27L657.61 229.58L658.62 228.9L659.64 228.24L660.65 227.6L661.67 226.98L662.68 226.38L663.69 225.79L664.71 225.22L665.72 224.67L666.74 224.13L667.75 223.61L668.76 223.1L669.78 222.61L670.79 222.13L671.81 221.66L672.82 221.21L673.84 220.77L674.85 220.34L675.86 219.92L676.88 219.52L677.89 219.13L678.91 218.75L679.92 218.38L680.93 218.02L681.95 217.67L682.96 217.33L683.98 217L684.99 216.68L686 216.37L687.02 216.07L688.03 215.78L689.05 215.5L690.06 215.22L691.08 214.95L692.09 214.69L693.1 214.44L694.12 214.19L695.13 213.95L696.15 213.72L697.16 213.5L698.17 213.28L699.19 213.07L700.2 212.86L701.22 212.66L702.23 212.47L703.25 212.28L704.26 212.1L705.27 211.92L706.29 211.75L707.3 211.58L708.32 211.42L709.33 211.26L710.34 211.11L711.36 210.96L712.37 210.81L713.39 210.67L714.4 210.54L715.42 210.4L716.43 210.28L717.44 210.15L718.46 210.03L719.47 209.91L720.49 209.8L721.5 209.69L722.51 209.58L723.53 209.48L724.54 209.38L725.56 209.28L726.57 209.18L727.58 209.09L728.6 209L729.61 208.91L730.63 208.83L731.64 208.74L732.66 208.66L733.67 208.59L734.68 208.51L735.7 208.44L736.71 208.37L737.73 208.3L738.74 208.23L739.75 208.17L740.77 208.1L741.78 208.04L742.8 207.98L743.81 207.92L744.83 207.87L745.84 207.81L746.85 207.76L747.87 207.71L748.88 207.66L749.9 207.61L750.91 207.56L751.92 207.52L752.94 207.47L753.95 207.43L754.97 207.39L755.98 207.35L757 207.31L758.01 207.27L759.02 207.23L760.04 207.2L761.05 207.16L762.07 207.13L763.08 207.1L764.09 207.06L765.11 207.03L766.12 207L767.14 206.97L768.15 206.95L769.16 206.92L770.18 206.89L771.19 206.86L772.21 206.84L773.22 206.82L774.24 206.79L775.25 206.77L776.26 206.75L777.28 206.72L778.29 206.7L779.31 206.68L780.32 206.66L781.33 206.64L782.35 206.62L783.36 206.61L784.38 206.59L785.39 206.57L786.41 206.55L787.42 206.54L788.43 206.52L789.45 206.51L790.46 206.49L791.48 206.48L792.49 206.46L793.5 206.45L794.52 206.44L795.53 206.42L796.55 206.41L797.56 206.4L798.57 206.39L799.59 206.38L800.6 206.37L801.62 206.36L802.63 206.35L803.65 206.34L804.66 206.33L805.67 206.32L806.69 206.31L807.7 206.3L808.72 206.29L809.73 206.28L810.74 206.27L811.76 206.26L812.77 206.26L813.79 206.25L814.8 206.24L815.82 206.24L816.83 206.23L817.84 206.22L818.86 206.22L819.87 206.21L820.89 206.2L821.9 206.2L822.91 206.19L823.93 206.19L824.94 206.18L825.96 206.17L826.97 206.17L827.99 206.16L829 206.16L830.01 206.16L831.03 206.15L832.04 206.15L833.06 206.14L834.07 206.14L835.08 206.13L836.1 206.13L837.11 206.13L838.13 206.12L839.14 206.12L840.15 206.12L841.17 206.11L842.18 206.11L843.2 206.11L844.21 206.1L845.23 206.1L846.24 206.1L847.25 206.09L848.27 206.09L849.28 206.09L850.3 206.09L851.31 206.08L852.32 206.08L853.34 206.08L854.35 206.08L855.37 206.07L856.38 206.07L857.4 206.07L858.41 206.07L859.42 206.07L860.44 206.06L861.45 206.06L862.47 206.06L863.48 206.06L864.49 206.06L865.51 206.06L866.52 206.05L867.54 206.05L868.55 206.05L869.56 206.05L870.58 206.05L871.59 206.05L872.61 206.04L873.62 206.04L874.64 206.04L875.65 206.04L876.66 206.04L877.68 206.04L878.69 206.04L879.71 206.04L880.72 206.04L881.73 206.03L882.75 206.03L883.76 206.03L884.78 206.03L885.79 206.03L886.81 206.03L887.82 206.03L888.83 206.03L889.85 206.03L890.86 206.03L891.88 206.03L892.89 206.02L893.9 206.02L894.92 206.02L895.93 206.02L896.95 206.02L897.96 206.02L898.98 206.02L899.99 206.02L901 206.02L902.02 206.02L903.03 206.02L904.05 206.02L905.06 206.02L906.07 206.02L907.09 206.02L908.1 206.02L909.12 206.02L910.13 206.01L911.14 206.01L912.16 206.01L913.17 206.01L914.19 206.01L915.2 206.01L916.22 206.01L917.23 206.01L918.24 206.01L919.26 206.01L920.27 206.01L921.29 206.01L922.3 206.01L923.31 206.01L924.33 206.01L925.34 206.01L926.36 206.01L927.37 206.01L928.39 206.01L929.4 206.01L930.41 206.01L931.43 206.01L932.44 206.01L933.46 206.01L934.47 206.01L935.48 206.01L936.5 206.01L937.51 206.01L938.53 206.01L939.54 206.01L940.55 206.01L941.57 206.01L942.58 206.01L943.6 206.01L944.61 206.01L945.63 206.01L946.64 206.01L947.65 206.01L948.67 206L949.68 206L950.7 206L951.71 206L952.72 206L953.74 206L954.75 206L955.77 206L956.78 206L957.8 206L958.81 206L959.82 206L960.84 206L961.85 206L962.87 206L963.88 206L964.89 206L965.91 206L966.92 206L967.94 206L968.95 206L969.97 206L970.98 206L971.99 206L973.01 206L974.02 206L975.04 206L976.05 206" fill="none" stroke="#363636" stroke-width="2.8" stroke-linejoin="round"/></svg></body></html>
